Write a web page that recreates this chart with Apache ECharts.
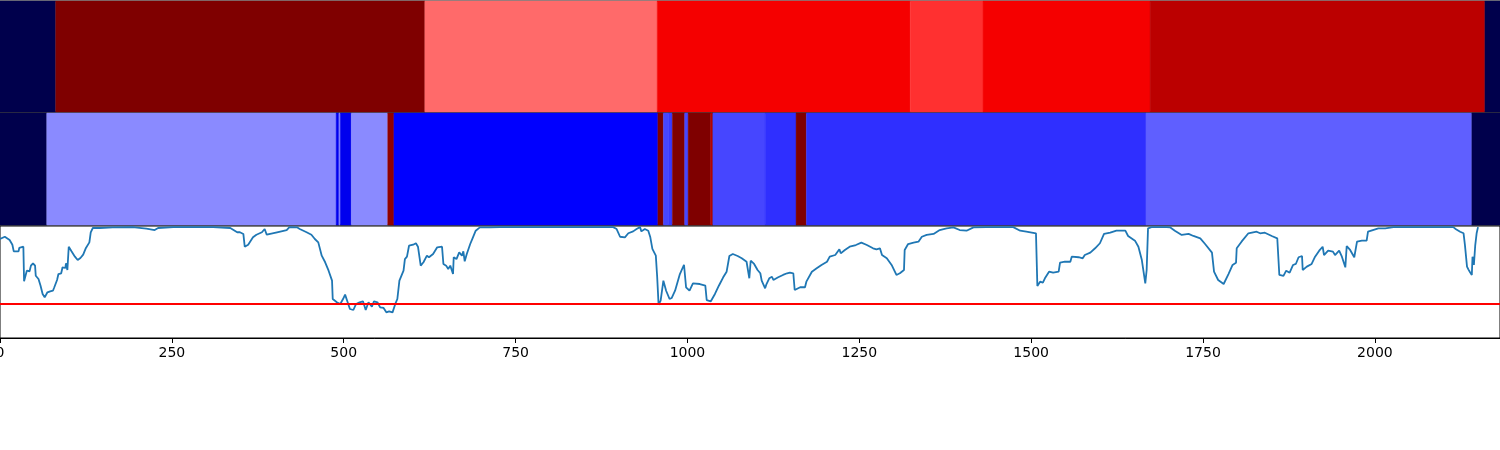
<!DOCTYPE html>
<html>
<head>
<meta charset="utf-8">
<script src="https://cdn.jsdelivr.net/npm/echarts@6/dist/echarts.min.js"></script>
<style>html,body{margin:0;padding:0;background:#fff}#c{width:1500px;height:450px}</style>
</head>
<body>
<div id="c"></div>
<script>
// x-axis extent and ticks
const xMax = 2182;
const xTickInterval = 250;

// top band row: [start, end, value] (value mapped through the seismic colormap, 0..1)
const topBands = [
  [0, 81, 0], [81, 618, 1.0], [618, 956, 0.646], [956, 1324, 0.770],
  [1324, 1430, 0.703], [1430, 1673, 0.770], [1673, 2160, 0.883], [2160, 2182, 0]
];

// middle band row
const midBands = [
  [0, 68, 0], [68, 489, 0.385], [489, 493, 0.226], [493, 495, 0.385], [495, 511, 0.226],
  [511, 564, 0.385], [564, 573, 0.967], [573, 957, 0.25], [957, 965, 1.0], [965, 973, 0.319],
  [973, 978, 0.307], [978, 996, 1.0], [996, 1001, 0.319], [1001, 1034, 1.0], [1034, 1036, 0.87],
  [1036, 1037, 1.0], [1037, 1113, 0.319], [1113, 1158, 0.296], [1158, 1173, 1.0],
  [1173, 1667, 0.296], [1667, 2141, 0.343], [2141, 2182, 0]
];

// bottom line series
const lineX = [0,7,14,18,20,27,28,34,35,39,43,45,48,51,52,56,59,62,65,69,73,77,79,83,85,89,91,95,96,98,100,104,109,113,117,121,125,130,132,135,145,164,193,213,225,230,252,281,310,335,345,349,354,356,361,368,373,381,385,388,403,417,421,432,436,446,453,458,463,468,473,478,483,484,490,495,499,502,505,509,514,518,523,528,532,536,541,544,549,553,558,562,566,571,575,578,581,587,589,592,595,601,605,608,612,616,621,624,630,636,643,645,649,652,655,659,660,664,668,672,674,676,679,684,688,692,698,713,727,752,873,892,897,902,909,914,921,926,931,933,938,943,946,949,954,956,958,961,965,969,974,977,982,989,995,998,1003,1008,1018,1026,1028,1034,1040,1045,1047,1052,1057,1061,1066,1073,1079,1086,1090,1092,1097,1102,1106,1108,1113,1115,1119,1123,1125,1132,1139,1145,1149,1154,1156,1164,1171,1173,1181,1188,1195,1203,1207,1215,1221,1223,1229,1236,1245,1253,1261,1270,1275,1280,1283,1290,1297,1304,1309,1315,1316,1321,1329,1336,1341,1348,1358,1367,1377,1387,1396,1406,1416,1435,1455,1474,1484,1493,1507,1509,1513,1517,1520,1526,1532,1540,1542,1549,1557,1559,1569,1575,1578,1586,1593,1600,1606,1615,1624,1637,1641,1651,1656,1661,1666,1668,1670,1675,1697,1702,1709,1719,1729,1736,1746,1753,1763,1766,1772,1780,1787,1793,1798,1799,1806,1816,1828,1833,1840,1850,1858,1861,1867,1871,1876,1881,1885,1889,1894,1895,1901,1908,1913,1919,1924,1926,1932,1939,1942,1948,1952,1957,1959,1964,1970,1974,1981,1988,1990,1997,2005,2015,2027,2046,2114,2118,2124,2129,2131,2134,2136,2138,2141,2142,2144,2146,2148,2150];
const lineY = [0.884,0.904,0.875,0.833,0.774,0.774,0.804,0.815,0.506,0.601,0.596,0.646,0.667,0.646,0.556,0.527,0.467,0.393,0.363,0.408,0.417,0.422,0.453,0.518,0.571,0.578,0.631,0.625,0.667,0.607,0.815,0.774,0.726,0.696,0.714,0.744,0.804,0.854,0.944,0.982,0.982,0.988,0.99,0.976,0.964,0.982,0.99,0.99,0.99,0.982,0.944,0.944,0.929,0.815,0.833,0.899,0.922,0.944,0.973,0.922,0.944,0.964,0.99,0.988,0.973,0.944,0.922,0.884,0.854,0.735,0.676,0.601,0.512,0.348,0.319,0.304,0.348,0.387,0.333,0.259,0.25,0.304,0.319,0.328,0.25,0.319,0.279,0.328,0.319,0.274,0.268,0.229,0.238,0.229,0.304,0.348,0.512,0.601,0.705,0.726,0.824,0.833,0.846,0.815,0.646,0.676,0.735,0.721,0.75,0.81,0.815,0.661,0.646,0.616,0.646,0.571,0.721,0.705,0.765,0.735,0.774,0.685,0.75,0.839,0.899,0.958,0.988,0.988,0.99,0.99,0.99,0.99,0.973,0.904,0.899,0.935,0.952,0.973,0.99,0.952,0.973,0.958,0.899,0.795,0.735,0.542,0.297,0.333,0.512,0.422,0.348,0.357,0.422,0.571,0.654,0.453,0.422,0.488,0.482,0.467,0.339,0.328,0.393,0.458,0.482,0.542,0.592,0.732,0.75,0.732,0.712,0.681,0.533,0.69,0.661,0.607,0.578,0.512,0.444,0.482,0.533,0.547,0.518,0.542,0.563,0.578,0.583,0.578,0.429,0.453,0.453,0.503,0.592,0.622,0.652,0.681,0.726,0.741,0.792,0.756,0.786,0.815,0.83,0.851,0.83,0.801,0.792,0.801,0.741,0.712,0.652,0.563,0.578,0.607,0.786,0.839,0.851,0.86,0.904,0.92,0.929,0.964,0.979,0.988,0.964,0.958,0.988,0.99,0.99,0.99,0.958,0.949,0.935,0.464,0.503,0.494,0.533,0.592,0.583,0.592,0.672,0.681,0.681,0.726,0.721,0.712,0.741,0.762,0.801,0.846,0.929,0.94,0.958,0.958,0.911,0.869,0.815,0.696,0.488,0.607,0.979,0.99,0.99,0.988,0.958,0.92,0.929,0.911,0.89,0.839,0.762,0.592,0.518,0.482,0.571,0.652,0.672,0.801,0.86,0.935,0.949,0.935,0.94,0.911,0.89,0.563,0.554,0.601,0.583,0.652,0.661,0.721,0.732,0.607,0.637,0.661,0.726,0.78,0.815,0.741,0.78,0.771,0.741,0.78,0.726,0.631,0.821,0.786,0.721,0.86,0.869,0.869,0.949,0.964,0.979,0.979,0.99,0.99,0.99,0.971,0.949,0.935,0.83,0.637,0.613,0.592,0.563,0.726,0.652,0.83,0.935,0.99];
const threshold = 0.31;

// seismic colormap stops
const seismic = ['#00004c', '#0000ff', '#ffffff', '#ff0000', '#7f0000'];

const chart = echarts.init(document.getElementById('c'), null, {renderer: 'canvas'});

function renderBand(params, api) {
  const p0 = api.coord([api.value(0), 1]);
  const p1 = api.coord([api.value(1), 0]);
  const c = api.visual('color');
  return {
    type: 'rect',
    shape: {x: p0[0], y: p0[1], width: p1[0] - p0[0], height: p1[1] - p0[1]},
    style: {fill: c, stroke: c, lineWidth: 0.4}
  };
}

const gridBase = {left: 0, right: 0, show: true, borderColor: '#000', borderWidth: 1, backgroundColor: 'transparent', containLabel: false, outerBoundsMode: 'none'};
const hiddenX = (i) => ({type: 'value', gridIndex: i, min: 0, max: xMax, show: false, splitLine: {show: false}});
const hiddenY = (i) => ({type: 'value', gridIndex: i, min: 0, max: 1, show: false, splitLine: {show: false}});

chart.setOption({
  animation: false,
  backgroundColor: '#fff',
  grid: [
    Object.assign({}, gridBase, {top: 1, height: 111}),
    Object.assign({}, gridBase, {top: 113, height: 112}),
    Object.assign({}, gridBase, {top: 226, height: 112})
  ],
  visualMap: {
    type: 'continuous', show: false, min: 0, max: 1, dimension: 2,
    seriesIndex: [0, 1], inRange: {color: seismic}
  },
  xAxis: [
    hiddenX(0), hiddenX(1),
    {
      type: 'value', gridIndex: 2, min: 0, max: xMax, interval: xTickInterval,
      splitLine: {show: false},
      axisLine: {show: true, onZero: false, lineStyle: {color: '#000', width: 1}},
      axisTick: {show: true, length: 5, lineStyle: {color: '#000', width: 1}},
      axisLabel: {show: true, color: '#000', fontSize: 14, fontFamily: 'DejaVu Sans', margin: 8, showMaxLabel: false,
        formatter: (v) => (v % xTickInterval === 0 ? String(v) : '')}
    }
  ],
  yAxis: [hiddenY(0), hiddenY(1), hiddenY(2)],
  series: [
    {type: 'custom', xAxisIndex: 0, yAxisIndex: 0, renderItem: renderBand, encode: {x: [0, 1]}, data: topBands, silent: true},
    {type: 'custom', xAxisIndex: 1, yAxisIndex: 1, renderItem: renderBand, encode: {x: [0, 1]}, data: midBands, silent: true},
    {
      type: 'line', xAxisIndex: 2, yAxisIndex: 2, showSymbol: false, symbol: 'none',
      data: lineX.map((x, i) => [x, lineY[i]]),
      lineStyle: {color: '#1f77b4', width: 1.8}, itemStyle: {color: '#1f77b4'},
      markLine: {
        silent: true, symbol: 'none', label: {show: false},
        lineStyle: {color: '#ff0000', width: 1.8, type: 'solid'},
        data: [{yAxis: threshold}]
      },
      z: 3
    }
  ]
});
</script>
</body>
</html>
